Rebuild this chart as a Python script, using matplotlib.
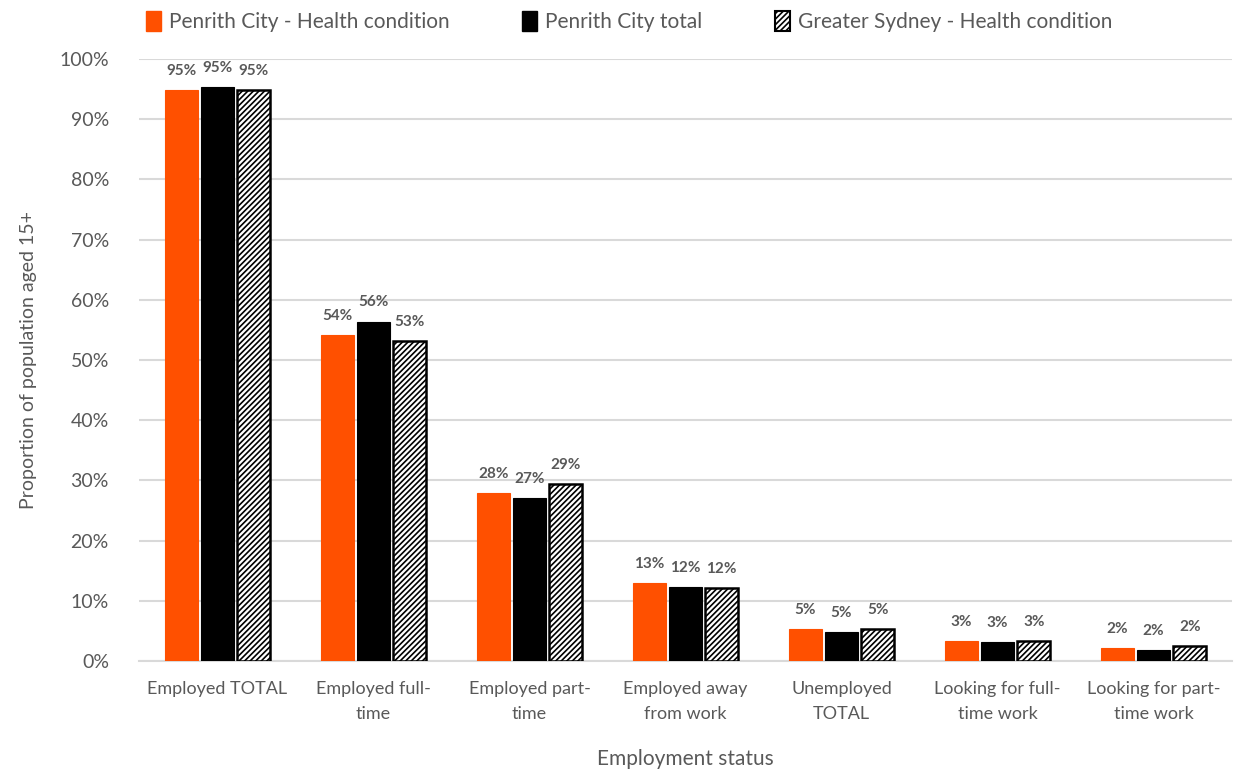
import numpy as np
import matplotlib.pyplot as plt
from matplotlib.patches import Patch

plt.rcParams['font.family'] = ['Lato', 'DejaVu Sans']
plt.rcParams['hatch.linewidth'] = 1.2

categories = ['Employed TOTAL', 'Employed full-\ntime', 'Employed part-\ntime',
              'Employed away\nfrom work', 'Unemployed\nTOTAL', 'Looking for full-\ntime work',
              'Looking for part-\ntime work']
penrith_health = [94.8, 54.2, 27.9, 13.0, 5.4, 3.4, 2.2]
penrith_total = [95.4, 56.4, 27.1, 12.3, 4.8, 3.1, 1.8]
sydney_health = [94.8, 53.2, 29.4, 12.1, 5.4, 3.3, 2.5]
series_names = ['Penrith City - Health condition', 'Penrith City total',
                'Greater Sydney - Health condition']

grey = '#595959'
orange = '#FF5000'

fig = plt.figure(figsize=(12.34, 7.76), dpi=100)
ax = fig.add_axes([0.113, 0.148, 0.885, 0.776])

x = np.arange(len(categories))
w = 0.21
off = 0.232
b1 = ax.bar(x - off, penrith_health, w, color=orange, edgecolor=orange, linewidth=0.8, zorder=3)
b2 = ax.bar(x, penrith_total, w, color='black', edgecolor='black', linewidth=0.8, zorder=3)
b3 = ax.bar(x + off, sydney_health, w, color='white', edgecolor='black', linewidth=1.8,
            hatch='//////', zorder=3)

for bars, vals in [(b1, penrith_health), (b2, penrith_total), (b3, sydney_health)]:
    for rect, v in zip(bars, vals):
        ax.text(rect.get_x() + rect.get_width() / 2, v + 2.0, '%d%%' % round(v),
                ha='center', va='bottom', fontsize=11, color=grey, fontweight='bold')

ax.set_ylim(0, 100)
ax.set_xlim(-0.5, len(categories) - 0.5)
ax.set_yticks(np.arange(0, 101, 10))
ax.set_yticklabels(['%d%%' % t for t in range(0, 101, 10)])
ax.set_xticks(x)
ax.set_xticklabels(categories, linespacing=1.7)
ax.tick_params(axis='both', length=0, colors=grey, labelsize=13)
ax.tick_params(axis='y', labelsize=14, pad=22)
ax.tick_params(axis='x', pad=14)
ax.yaxis.grid(True, color='#d9d9d9', linewidth=1.5, zorder=0)
for s in ['top', 'right', 'left']:
    ax.spines[s].set_visible(False)
ax.spines['bottom'].set_color('#d9d9d9')
ax.spines['bottom'].set_linewidth(1.5)

ax.set_ylabel('Proportion of population aged 15+', fontsize=14, color=grey, labelpad=16)
ax.set_xlabel('Employment status', fontsize=15, color=grey, labelpad=20)

handles = [Patch(facecolor=orange, edgecolor=orange),
           Patch(facecolor='black', edgecolor='black'),
           Patch(facecolor='white', edgecolor='black', hatch='//////', linewidth=1.5)]
fig.legend(handles, series_names, loc='upper center', bbox_to_anchor=(0.51, 1.01), ncol=3,
           frameon=False, fontsize=15, labelcolor=grey, handlelength=0.7, handleheight=1.1,
           handletextpad=0.4, columnspacing=3.5)

fig.savefig('out.png', dpi=100)
